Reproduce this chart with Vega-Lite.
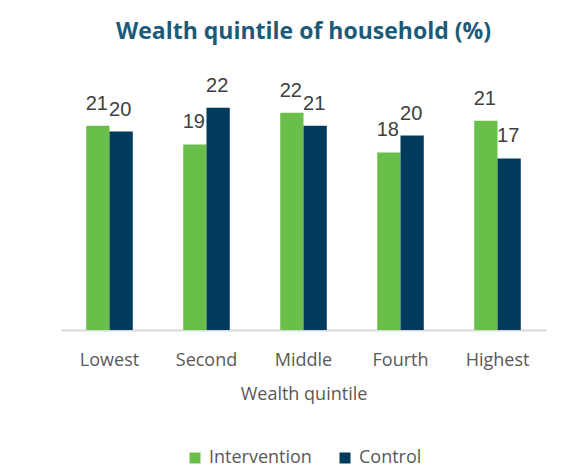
{
  "$schema": "https://vega.github.io/schema/vega-lite/v6.json",
  "width": 485,
  "height": 248,
  "autosize": {"type": "none"},
  "padding": {"left": 61, "top": 82, "right": 15, "bottom": 146},
  "background": "#ffffff",
  "title": {
    "text": "Wealth quintile of household (%)",
    "font": "Open Sans",
    "fontSize": 23,
    "fontWeight": "bold",
    "color": "#1b5b78",
    "offset": 32,
    "anchor": "middle"
  },
  "data": {
    "values": [
      {"quintile": "Lowest", "group": "Intervention", "value": 20.6},
      {"quintile": "Lowest", "group": "Control", "value": 20.0},
      {"quintile": "Second", "group": "Intervention", "value": 18.7},
      {"quintile": "Second", "group": "Control", "value": 22.4},
      {"quintile": "Middle", "group": "Intervention", "value": 21.9},
      {"quintile": "Middle", "group": "Control", "value": 20.6},
      {"quintile": "Fourth", "group": "Intervention", "value": 17.9},
      {"quintile": "Fourth", "group": "Control", "value": 19.6},
      {"quintile": "Highest", "group": "Intervention", "value": 21.1},
      {"quintile": "Highest", "group": "Control", "value": 17.3}
    ]
  },
  "encoding": {
    "x": {
      "field": "quintile",
      "type": "nominal",
      "sort": ["Lowest", "Second", "Middle", "Fourth", "Highest"],
      "scale": {"paddingInner": 0.52, "paddingOuter": 0.26},
      "axis": {
        "title": "Wealth quintile",
        "titleFont": "Open Sans",
        "titleFontSize": 18,
        "titleFontWeight": "normal",
        "titleColor": "#595959",
        "titlePadding": 16,
        "labelFont": "Open Sans",
        "labelFontSize": 18,
        "labelColor": "#595959",
        "labelAngle": 0,
        "labelPadding": 21,
        "ticks": false,
        "domainColor": "#d9d9d9",
        "domainWidth": 2
      }
    },
    "xOffset": {
      "field": "group",
      "type": "nominal",
      "sort": ["Intervention", "Control"],
      "scale": {"paddingInner": 0, "paddingOuter": 0}
    },
    "y": {
      "field": "value",
      "type": "quantitative",
      "scale": {"domain": [0, 25], "nice": false},
      "axis": null
    }
  },
  "layer": [
    {
      "mark": {"type": "bar"},
      "encoding": {
        "color": {
          "field": "group",
          "type": "nominal",
          "sort": ["Intervention", "Control"],
          "scale": {"domain": ["Intervention", "Control"], "range": ["#6abf4b", "#003a5c"]},
          "legend": {
            "title": null,
            "orient": "bottom",
            "direction": "horizontal",
            "symbolType": "square",
            "symbolSize": 121,
            "symbolStrokeWidth": 0,
            "labelFont": "Open Sans",
            "labelFontSize": 18,
            "labelColor": "#595959",
            "columnPadding": 24,
            "labelOffset": 5,
            "offset": 46
          }
        }
      }
    },
    {
      "mark": {
        "type": "text",
        "baseline": "bottom",
        "dy": -12,
        "dx": -1,
        "font": "Liberation Sans",
        "fontSize": 20,
        "color": "#404040"
      },
      "encoding": {
        "text": {"field": "value", "type": "quantitative", "format": ".0f"}
      }
    }
  ],
  "config": {
    "view": {"stroke": null},
    "legend": {"layout": {"bottom": {"anchor": "middle"}}}
  }
}
